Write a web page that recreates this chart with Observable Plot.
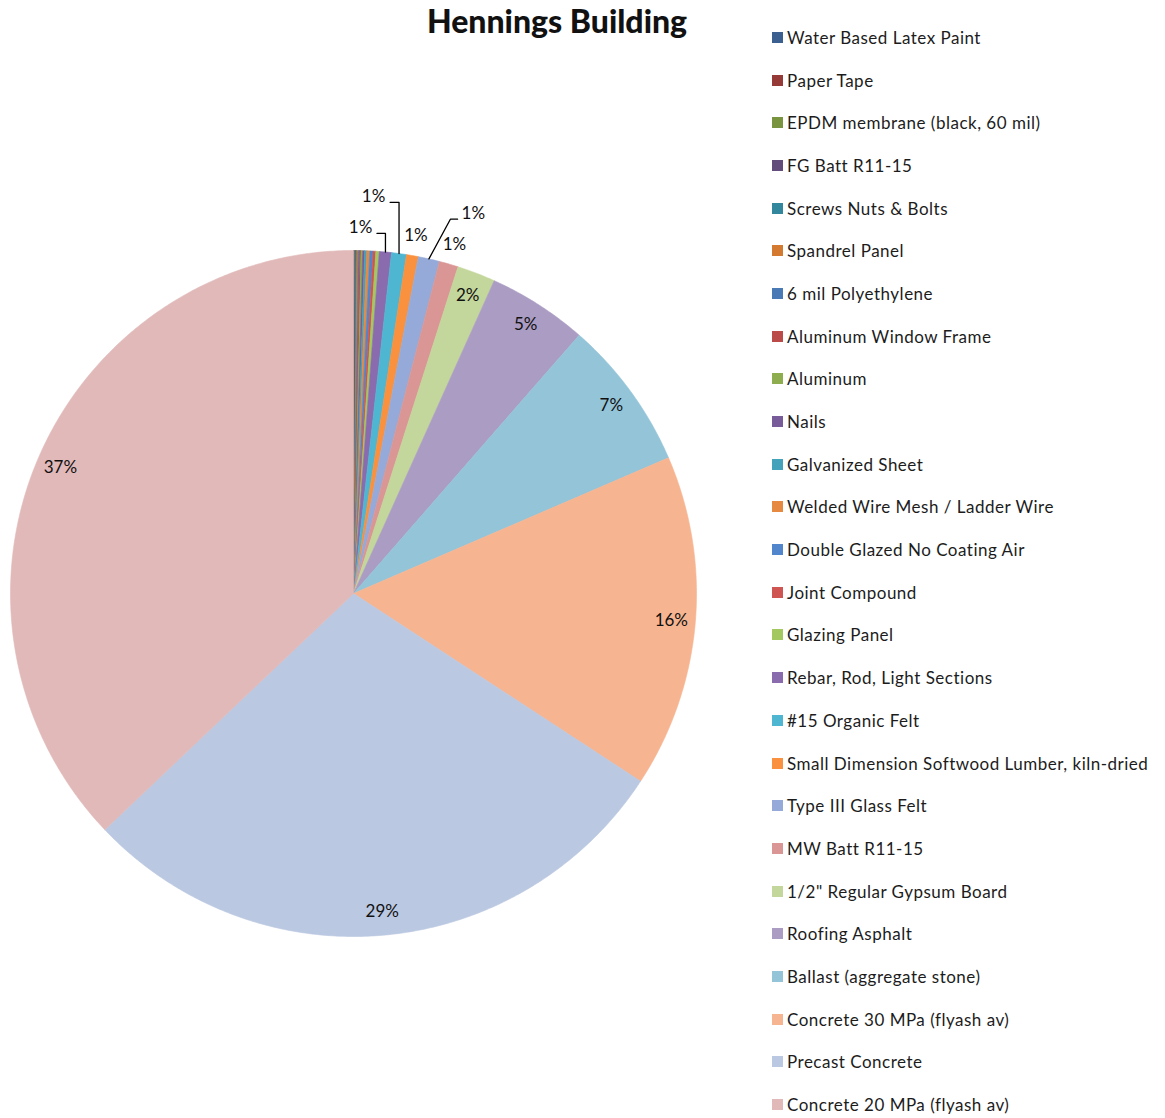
<!DOCTYPE html>
<html>
<head>
<meta charset="utf-8">
<script src="https://cdn.jsdelivr.net/npm/d3@7"></script>
<script src="https://cdn.jsdelivr.net/npm/@observablehq/plot@0.6"></script>
<style>
  html, body { margin: 0; padding: 0; background: #fff; }
  #wrap { position: relative; width: 1165px; height: 1118px; overflow: hidden; font-family: Lato, "Open Sans", sans-serif; }
  #chart { position: absolute; left: 0; top: 0; }
  #title { position: absolute; left: 357px; width: 400px; top: 1px; text-align: center; font-weight: 900; font-size: 32px; color: #111; }
  #legend { position: absolute; left: 772px; top: 16px; }
  .row { height: 42.7px; display: flex; align-items: center; font-size: 17px; letter-spacing: 0.5px; color: #1c1c1c; white-space: nowrap; }
  .sw { width: 11px; height: 11px; margin-right: 4px; flex: none; }
</style>
</head>
<body>
<div id="wrap">
  <div id="chart"></div>
  <div id="title">Hennings Building</div>
  <div id="legend"></div>
</div>
<script>
// ---- data (legend order = clockwise slice order from 12 o'clock) ----
const materials = [
  "Water Based Latex Paint",
  "Paper Tape",
  "EPDM membrane (black, 60 mil)",
  "FG Batt R11-15",
  "Screws Nuts & Bolts",
  "Spandrel Panel",
  "6 mil Polyethylene",
  "Aluminum Window Frame",
  "Aluminum",
  "Nails",
  "Galvanized Sheet",
  "Welded Wire Mesh / Ladder Wire",
  "Double Glazed  No Coating  Air",
  "Joint Compound",
  "Glazing Panel",
  "Rebar, Rod,  Light Sections",
  "#15 Organic Felt",
  "Small Dimension  Softwood  Lumber, kiln-dried",
  "Type III Glass  Felt",
  "MW Batt  R11-15",
  "1/2\" Regular Gypsum  Board",
  "Roofing Asphalt",
  "Ballast (aggregate  stone)",
  "Concrete 30 MPa (flyash  av)",
  "Precast Concrete",
  "Concrete 20 MPa (flyash  av)"
];
const shares = [
  0.02, 0.02, 0.03, 0.04, 0.05, 0.06, 0.06, 0.07, 0.08, 0.09,
  0.10, 0.14, 0.15, 0.13, 0.16, 0.57, 0.70, 0.56, 1.0, 0.9,
  1.8, 4.7, 7.1, 15.7, 28.7, 37.1
];
const colors = [
  "#3b6090", "#963a38", "#78943e", "#614c7c", "#33879d", "#d37a30",
  "#4a7ab5", "#bb4b48", "#8dad4f", "#775c99", "#45a2bb", "#e58a40",
  "#5286cc", "#cf5552", "#a3c85f", "#8a6bae", "#4fb6d2", "#f9913e",
  "#95aad8", "#d99694", "#c3d69b", "#ab9cc3", "#93c4d8", "#f7b490",
  "#bac8e1", "#e1b9b9"
];
// label placement overrides (angle in degrees from 12 o'clock, radius in pie radii)
const labelLayout = {
  "Rebar, Rod,  Light Sections": {angle: 1.1, r: 1.067, side: "left"},
  "#15 Organic Felt": {angle: 2.9, r: 1.159, side: "left"},
  "Small Dimension  Softwood  Lumber, kiln-dried": {r: 1.06},
  "Type III Glass  Felt": {angle: 17.5, r: 1.162, side: "right"},
  "MW Batt  R11-15": {r: 1.06}
};

// ---- geometry via d3.pie ----
const total = d3.sum(shares);
const arcs = d3.pie().sort(null).startAngle(0).endAngle(2 * Math.PI)(shares);
const polys = [];
arcs.forEach((a, i) => {
  const name = materials[i];
  polys.push({name, x: 0, y: 0});
  const n = Math.max(2, Math.ceil((a.endAngle - a.startAngle) / (Math.PI / 360)));
  for (let k = 0; k <= n; k++) {
    const t = a.startAngle + (a.endAngle - a.startAngle) * k / n;
    polys.push({name, x: Math.sin(t), y: Math.cos(t)});
  }
  polys.push({name, x: 0, y: 0});
});

const labels = [];
const leaders = [];
arcs.forEach((a, i) => {
  const name = materials[i];
  const pct = Math.round(shares[i] / total * 100);
  if (pct < 1) return;
  const mid = (a.startAngle + a.endAngle) / 2;
  const lay = labelLayout[name] || {};
  const ang = lay.angle != null ? lay.angle * Math.PI / 180 : mid;
  const r = lay.r != null ? lay.r : 0.93;
  const lx = r * Math.sin(ang), ly = r * Math.cos(ang);
  labels.push({name, x: lx, y: ly, text: pct + "%"});
  if (lay.side) {
    const ex = Math.sin(mid), ey = Math.cos(mid);
    const hy = ly - 0.017;
    let pts;
    if (lay.side === "left") {
      pts = [[lx + 0.048, hy], [ex, hy], [ex, ey]];
    } else {
      pts = [[lx - 0.046, hy], [lx - 0.067, hy], [ex, ey]];
    }
    pts.forEach(([x, y]) => leaders.push({name, x, y}));
  }
});

const chart = Plot.plot({
  width: 720,
  height: 1118,
  margin: 0,
  x: {domain: [-1, 1], range: [10, 696], axis: null},
  y: {domain: [-1, 1], range: [936, 250], axis: null},
  color: {domain: materials, range: colors},
  style: {fontFamily: "Lato, 'Open Sans', sans-serif", background: "transparent"},
  marks: [
    Plot.line(polys, {x: "x", y: "y", z: "name", fill: "name", stroke: "name", strokeWidth: 0.6, curve: "linear"}),
    Plot.line(leaders, {x: "x", y: "y", z: "name", stroke: "#000", strokeWidth: 1.3}),
    Plot.text(labels, {x: "x", y: "y", text: "text", fontSize: 17, fill: "#111"})
  ]
});
document.getElementById("chart").appendChild(chart);

// ---- legend ----
const lg = document.getElementById("legend");
materials.forEach((m, i) => {
  const row = document.createElement("div");
  row.className = "row";
  const sw = document.createElement("span");
  sw.className = "sw";
  sw.style.background = colors[i];
  const tx = document.createElement("span");
  tx.textContent = m.replace(/  /g, " ");
  row.appendChild(sw);
  row.appendChild(tx);
  lg.appendChild(row);
});
</script>
</body>
</html>
